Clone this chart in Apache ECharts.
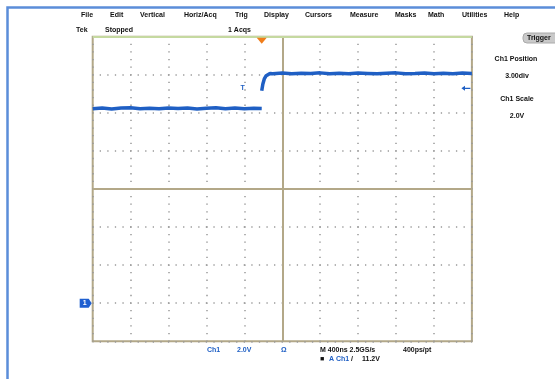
<!DOCTYPE html>
<html>
<head>
<meta charset="utf-8">
<script src="https://cdn.jsdelivr.net/npm/echarts@6/dist/echarts.min.js"></script>
<style>
html,body{margin:0;padding:0;background:#fff;}
#c{width:555px;height:379px;}
</style>
</head>
<body>
<div id="c"></div>
<script>
// ---- data (time in ns, Ch1 voltage in V) ----
var lowTimeNs  = [0,100,200,300,400,500,600,700,800,900,1000,1100,1200,1300,1400,1500,1600,1700,1783];
var lowVolts   = [10.22,10.26,10.20,10.25,10.27,10.22,10.24,10.21,10.26,10.23,10.25,10.20,10.24,10.27,10.22,10.25,10.21,10.24,10.23];
var edgeTimeNs = [1783,1795,1810,1830,1850,1870];
var edgeVolts  = [11.16,11.52,11.78,11.95,12.03,12.07];
var highTimeNs = [1900,2000,2100,2200,2300,2400,2500,2600,2700,2800,2900,3000,3100,3200,3300,3400,3500,3600,3700,3800,3900,4000];
var highVolts  = [12.06,12.09,12.05,12.08,12.07,12.10,12.05,12.08,12.06,12.09,12.07,12.05,12.08,12.10,12.06,12.07,12.09,12.05,12.08,12.06,12.09,12.07];
var triggerTimeNs = 1783;
var triggerLevelV = 11.29;
var ch1GroundV = 0;
var centerTimeNs = 2000;
var centerVolts = 6;
var timeMin = 0, timeMax = 4000, timePerDiv = 400;
var voltMin = -2, voltMax = 14, voltPerDiv = 2;

var menuLabels = ['File','Edit','Vertical','Horiz/Acq','Trig','Display','Cursors','Measure','Masks','Math','Utilities','Help'];
var menuX = [81,110,140,184,235,264,305,350,395,428,462,504];

// build series points
var trace = [];
for (var i = 0; i < lowTimeNs.length; i++) trace.push([lowTimeNs[i], lowVolts[i]]);
trace.push([triggerTimeNs, '-']);
for (var j = 0; j < edgeTimeNs.length; j++) trace.push([edgeTimeNs[j], edgeVolts[j]]);
for (var k = 0; k < highTimeNs.length; k++) trace.push([highTimeNs[k], highVolts[k]]);

var chart = echarts.init(document.getElementById('c'), null, {renderer: 'canvas'});
var blue = '#1f5fc4';
var tan = '#b3a888';
var fontFam = '"Liberation Sans", Arial, sans-serif';

var gfx = [
  {type:'rect', shape:{x:7.5,y:7.5,width:560,height:380}, style:{fill:'none', stroke:'#5b8dd9', lineWidth:2.5}, z:10}
];
for (var m = 0; m < menuLabels.length; m++) {
  gfx.push({type:'text', x:menuX[m], y:12, style:{text:menuLabels[m], font:'bold 7px ' + fontFam, fill:'#111'}});
}
function txt(x, y, s, color, align) {
  gfx.push({type:'text', x:x, y:y, style:{text:s, font:'bold 7px ' + fontFam, fill:color || '#111', align: align || 'left'}});
}
txt(76, 27, 'Tek');
txt(105, 27, 'Stopped');
txt(228, 27, '1 Acqs');
gfx.push({type:'rect', shape:{x:523,y:33,width:40,height:10,r:4}, style:{fill:'#c9c9c9', stroke:'#aaa'}});
txt(527, 35, 'Trigger');
txt(516, 56, 'Ch1 Position', '#111', 'center');
txt(517, 73, '3.00div', '#111', 'center');
txt(517, 96, 'Ch1 Scale', '#111', 'center');
txt(517, 113, '2.0V', '#111', 'center');
txt(207, 347, 'Ch1', blue);
txt(237, 347, '2.0V', blue);
txt(281, 347, 'Ω', blue);
txt(320, 347, 'M 400ns 2.5GS/s');
txt(403, 347, '400ps/pt');
txt(320, 356, '■');
txt(329, 356, 'A', blue);
txt(336, 356, 'Ch1', blue);
txt(351, 356, '/');
txt(362, 356, '11.2V');

var option = {
  animation: false,
  backgroundColor: '#ffffff',
  grid: {left: 92.7, top: 36.7, width: 379.2, height: 304.6, show: true, borderColor: tan, borderWidth: 2, backgroundColor: 'transparent'},
  xAxis: {
    type: 'value', min: timeMin, max: timeMax, interval: timePerDiv,
    axisLine: {show: false}, axisTick: {show: false}, axisLabel: {show: false},
    splitLine: {show: true, lineStyle: {color: '#999', width: 1.5, type: [1.3, 6.31], dashOffset: 0.6}}
  },
  yAxis: {
    type: 'value', min: voltMin, max: voltMax, interval: voltPerDiv,
    axisLine: {show: false}, axisTick: {show: false}, axisLabel: {show: false},
    splitLine: {show: true, lineStyle: {color: '#999', width: 1.5, type: [1.3, 6.28], dashOffset: 0.6}}
  },
  graphic: gfx,
  series: [{
    type: 'line',
    data: trace,
    showSymbol: false,
    connectNulls: false,
    lineStyle: {color: blue, width: 3.5},
    itemStyle: {color: blue},
    z: 5,
    markLine: {
      silent: true, symbol: 'none', animation: false,
      label: {show: false},
      data: [
        {xAxis: centerTimeNs, lineStyle: {color: tan, width: 2, type: 'solid'}},
        {yAxis: centerVolts, lineStyle: {color: tan, width: 2, type: 'solid'}},
        {yAxis: voltMax, lineStyle: {color: '#c5d9a0', width: 2, type: 'solid'}}
      ]
    },
    markPoint: {
      silent: true, animation: false,
      data: [
        {coord: [triggerTimeNs, voltMax], symbol: 'path://M0,0 L10,0 L5,6 Z', symbolSize: [10, 6], symbolOffset: [0, 4],
         itemStyle: {color: '#f07d1a'}, label: {show: false}},
        {coord: [timeMin, ch1GroundV], symbol: 'path://M0,0 L9,0 L12,4 L9,8 L0,8 Z', symbolSize: [12, 9], symbolOffset: [-7, 0],
         itemStyle: {color: '#1f5fd0'}, label: {show: true, formatter: '1', color: '#fff', fontSize: 7, fontWeight: 'bold', offset: [-1, 0]}},
        {coord: [timeMax, triggerLevelV], symbol: 'path://M0,4 L4,0 L4,3 L10,3 L10,5 L4,5 L4,8 Z', symbolSize: [9, 5], symbolOffset: [-6, 0],
         itemStyle: {color: blue}, label: {show: false}},
        {coord: [triggerTimeNs, triggerLevelV], symbol: 'circle', symbolSize: 1, itemStyle: {color: 'rgba(0,0,0,0)'},
         label: {show: true, position: 'inside', formatter: 'T', color: blue, fontSize: 7, fontWeight: 'bold', offset: [-19, 0]}}
      ]
    }
  }]
};
chart.setOption(option);
</script>
</body>
</html>
